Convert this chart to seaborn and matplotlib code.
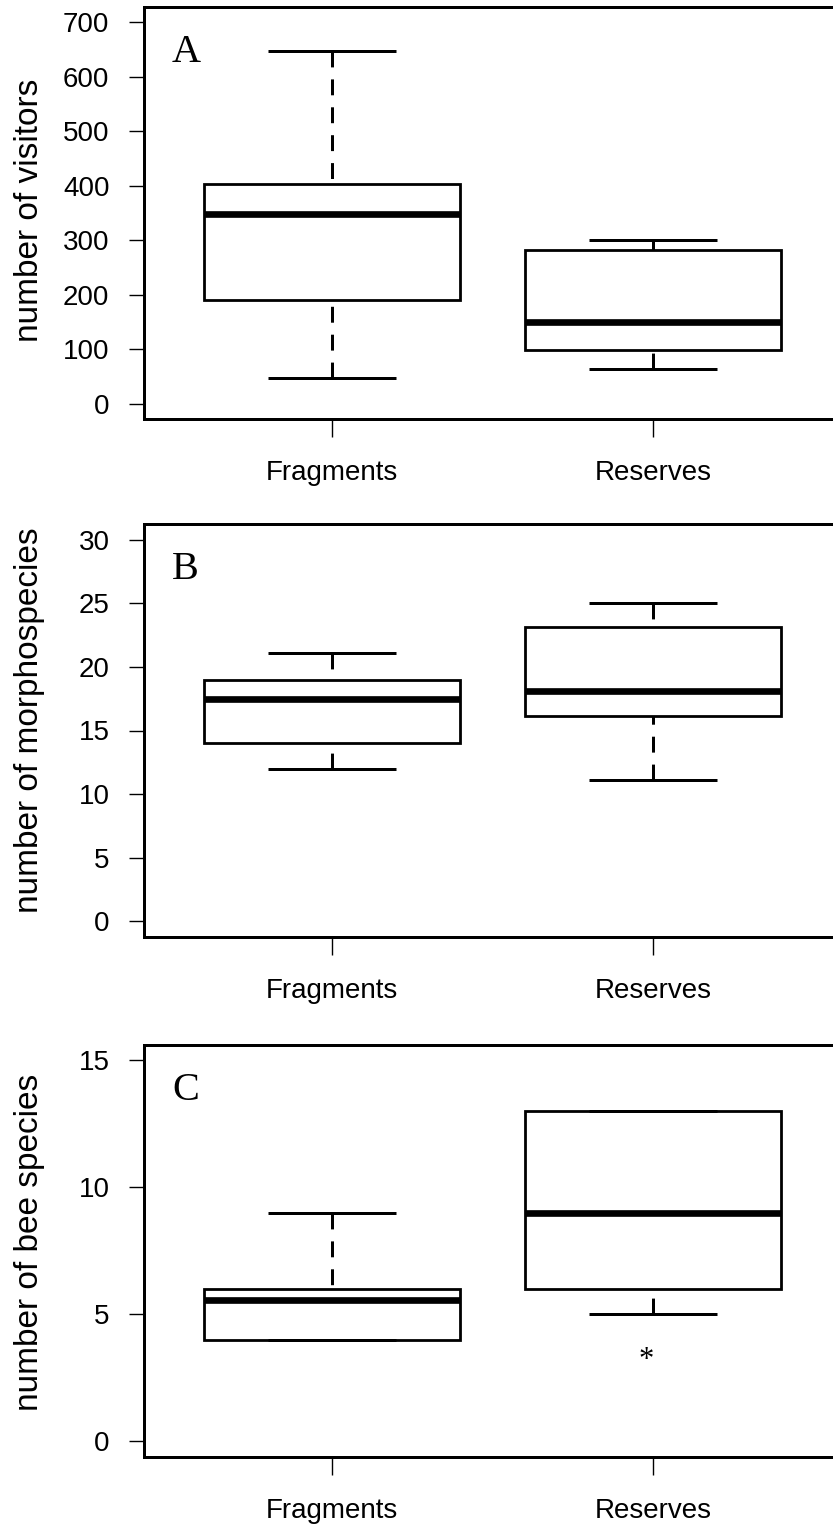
import pandas as pd
import matplotlib.pyplot as plt
import seaborn as sns

# Five-number summaries: min, lower hinge, median, upper hinge, max
sites = ["Fragments", "Reserves"]
visitors_fragments = [48, 191, 347, 402, 646]
visitors_reserves = [64, 98, 149, 282, 301]
morpho_fragments = [12, 14, 17.5, 19, 21.1]
morpho_reserves = [11.1, 16.1, 18.1, 23.1, 25]
bees_fragments = [4, 4, 5.55, 6, 9]
bees_reserves = [5, 6, 9, 13, 13]
bees_reserves_outlier = [3.2]

panel_letters = ["A", "B", "C"]
ylabels = ["number of visitors", "number of morphospecies", "number of bee species"]
yticks = [list(range(0, 701, 100)), list(range(0, 31, 5)), [0, 5, 10, 15]]
ylims = [(-28, 728), (-1.2, 31.2), (-0.6, 15.6)]
ylabel_y = [0.505, 0.524, 0.52]

panels = [(visitors_fragments, visitors_reserves),
          (morpho_fragments, morpho_reserves),
          (bees_fragments, bees_reserves)]

sns.set_style("ticks")
plt.rcParams["font.family"] = ["Liberation Sans", "DejaVu Sans"]
plt.rcParams["text.color"] = "black"
plt.rcParams["axes.labelcolor"] = "black"

W, H = 833, 1527
fig = plt.figure(figsize=(W / 100, H / 100), dpi=100)

# axes boxes in pixels (top, bottom) - right edge runs past the crop like the original
boxes_px = [(6.7, 419), (524.3, 936.7), (1045, 1456.7)]
left_px, width_px = 143.5, 696.6

for i, (frag, res) in enumerate(panels):
    top, bottom = boxes_px[i]
    ax = fig.add_axes([left_px / W, (H - bottom) / H, width_px / W, (bottom - top) / H])
    df = pd.DataFrame({"site": [sites[0]] * len(frag) + [sites[1]] * len(res),
                       "value": frag + res})
    sns.boxplot(data=df, x="site", y="value", order=sites, ax=ax, width=0.8,
                whis=(0, 100), fill=True, color="white", linecolor="black",
                linewidth=2,
                boxprops={"linewidth": 2, "joinstyle": "miter"},
                medianprops={"linewidth": 4.8, "solid_capstyle": "butt"},
                whiskerprops={"linewidth": 2.16, "linestyle": (0, (5.3, 4))},
                capprops={"linewidth": 2.16, "solid_capstyle": "butt"})
    # R draws whiskers from the staple towards the box, so flip them for the dash phase
    for cont in ax.containers:
        for wl in getattr(cont, "whiskers", []):
            xd, yd = wl.get_xdata(), wl.get_ydata()
            wl.set_data(list(xd)[::-1], list(yd)[::-1])

    if i == 2:
        for v in bees_reserves_outlier:
            ax.text(0.98, v, "*", ha="center", va="center", fontsize=22,
                    family="Liberation Serif", color="black")

    ax.set_xlim(-0.587, 1.583)
    ax.set_ylim(*ylims[i])
    ax.set_yticks(yticks[i])
    ax.set_xlabel("")
    ax.set_ylabel(ylabels[i], fontsize=24, color="black")
    ax.yaxis.set_label_coords(-0.1414, ylabel_y[i])
    ax.tick_params(axis="y", length=10.8, width=1, pad=13.7, labelsize=20, colors="black")
    ax.tick_params(axis="x", length=12.6, width=1, pad=17, labelsize=20, colors="black")
    for sp in ax.spines.values():
        sp.set_visible(True)
        sp.set_linewidth(2.16)
        sp.set_color("black")
    ax.annotate(panel_letters[i], xy=(0, 1), xycoords="axes fraction",
                xytext=(20.5, -39.6), textcoords="offset points",
                ha="left", va="baseline", fontsize=29, family="Liberation Serif",
                color="black")

fig.savefig("out.png", dpi=100)
